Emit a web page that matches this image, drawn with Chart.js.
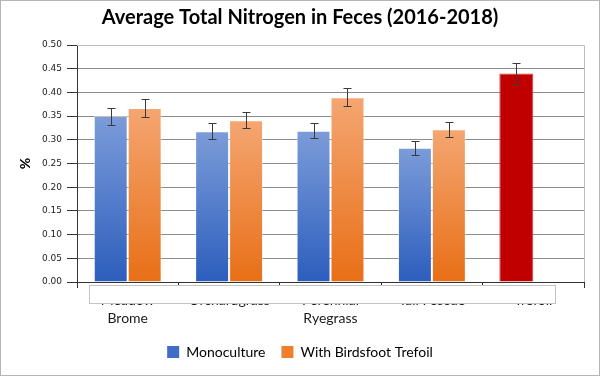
<!DOCTYPE html>
<html lang="en">
  <head>
    <meta charset="utf-8">
    <title>Average Total Nitrogen in Feces</title>
    <script src="https://cdn.jsdelivr.net/npm/chart.js"></script>
    <style>
      body { margin: 0; background: #fff; }
      #wrap { width: 600px; height: 376px; box-sizing: border-box; border: 1px solid #b4b4b4; }
    </style>
  </head>
  <body>
    <div id="wrap">
      <canvas id="myChart" width="598" height="374"></canvas>
    </div>
    <script>
      // data
      const categories = [['Meadow', 'Brome'], 'Orchardgrass', ['Perennial', 'Ryegrass'], 'Tall Fescue', 'Trefoil'];
      const monoculture = [0.350, 0.318, 0.319, 0.283, 0.440];
      const withTrefoil = [0.367, 0.341, 0.390, 0.322, null];
      const monoErr = [0.018, 0.0165, 0.016, 0.0145, 0.022];
      const trefoilErr = [0.0185, 0.017, 0.0195, 0.016, null];
      const yTicks = [0, 0.05, 0.10, 0.15, 0.20, 0.25, 0.30, 0.35, 0.40, 0.45, 0.50];

      // each bar gets its own top-to-bottom gradient, like the original
      function barFill(light, dark) {
        return function (c) {
          const chart = c.chart;
          if (!chart.chartArea || c.parsed == null || c.parsed.y == null) return dark;
          const y = chart.scales.y;
          const top = y.getPixelForValue(c.parsed.y);
          const bot = y.getPixelForValue(0);
          const g = chart.ctx.createLinearGradient(0, top, 0, bot);
          g.addColorStop(0, light);
          g.addColorStop(1, dark);
          return g;
        };
      }
      const blueFill = barFill('#7c9cd9', '#2c5ebd');
      const orangeFill = barFill('#f4a672', '#e86f16');

      const errorBars = {
        id: 'errorBars',
        afterDatasetsDraw(chart) {
          const ctx = chart.ctx;
          const y = chart.scales.y;
          const errs = [monoErr, trefoilErr];
          ctx.save();
          ctx.strokeStyle = '#3a3a3a';
          ctx.lineWidth = 1;
          chart.data.datasets.forEach((ds, i) => {
            chart.getDatasetMeta(i).data.forEach((bar, j) => {
              const v = ds.data[j], e = errs[i][j];
              if (v == null || e == null) return;
              const x = Math.round(bar.x) + 0.5;
              const t = Math.round(y.getPixelForValue(v + e)) + 0.5;
              const b = Math.round(y.getPixelForValue(v - e)) + 0.5;
              ctx.beginPath();
              ctx.moveTo(x, t); ctx.lineTo(x, b);
              ctx.moveTo(x - 4, t); ctx.lineTo(x + 4, t);
              ctx.moveTo(x - 4, b); ctx.lineTo(x + 4, b);
              ctx.stroke();
            });
          });
          ctx.restore();
        }
      };

      // plot-area frame plus the stray white box lying over the first label line
      const extras = {
        id: 'extras',
        beforeDatasetsDraw(chart) {
          const a = chart.chartArea, ctx = chart.ctx;
          ctx.save();
          ctx.strokeStyle = '#bdbdbd';
          ctx.beginPath();
          ctx.moveTo(a.left, a.top + 0.5); ctx.lineTo(a.right + 0.5, a.top + 0.5); ctx.lineTo(a.right + 0.5, a.bottom);
          ctx.stroke();
          ctx.restore();
        },
        afterDraw(chart) {
          const a = chart.chartArea, ctx = chart.ctx;
          ctx.save();
          ctx.fillStyle = '#fff';
          ctx.strokeStyle = '#c3c3c3';
          ctx.fillRect(a.left + 12, a.bottom + 3, 467, 18);
          ctx.strokeRect(a.left + 12.5, a.bottom + 3.5, 466, 18);
          ctx.restore();
        }
      };

      const ctx = document.getElementById('myChart');
      new Chart(ctx, {
        type: 'bar',
        data: {
          labels: categories,
          datasets: [{
            label: 'Monoculture',
            data: monoculture,
            backgroundColor: (c) => c.dataIndex === 4 ? '#c00000' : blueFill(c),
            borderColor: (c) => c.dataIndex === 4 ? '#d23a3a' : 'rgba(255,255,255,0.45)',
            borderWidth: 1,
            categoryPercentage: 0.67,
            barPercentage: 1
          }, {
            label: 'With Birdsfoot Trefoil',
            data: withTrefoil,
            backgroundColor: orangeFill,
            borderColor: 'rgba(255,255,255,0.45)',
            borderWidth: 1,
            categoryPercentage: 0.67,
            barPercentage: 1
          }]
        },
        options: {
          responsive: false,
          animation: false,
          layout: { padding: { left: 0, right: 0, top: 0, bottom: 6 } },
          plugins: {
            title: {
              display: true,
              text: 'Average Total Nitrogen in Feces (2016-2018)',
              color: '#000',
              font: { family: 'Lato', size: 20, weight: 'bold' },
              padding: { top: 5, bottom: 15 }
            },
            legend: {
              position: 'bottom',
              labels: {
                color: '#1a1a1a',
                font: { family: 'Lato', size: 14 },
                boxWidth: 12,
                boxHeight: 12,
                padding: 16,
                generateLabels: () => [
                  { text: 'Monoculture', fillStyle: '#3f6dc8', strokeStyle: '#3f6dc8', lineWidth: 0, datasetIndex: 0 },
                  { text: 'With Birdsfoot Trefoil', fillStyle: '#ef7f2c', strokeStyle: '#ef7f2c', lineWidth: 0, datasetIndex: 1 }
                ]
              }
            },
            tooltip: { enabled: false }
          },
          scales: {
            x: {
              offset: true,
              grid: { offset: true, drawOnChartArea: false, tickLength: 6, color: '#333', tickColor: '#333' },
              border: { color: '#333' },
              ticks: {
                color: '#1a1a1a',
                padding: 3,
                maxRotation: 0,
                font: { family: 'Lato', size: 14, lineHeight: 1.3 }
              },
              afterFit: (s) => { s.height = 47; }
            },
            y: {
              min: 0,
              max: 0.5,
              afterBuildTicks: (s) => { s.ticks = yTicks.map(v => ({ value: v })); },
              grid: { color: '#8c8c8c', tickColor: '#333', tickLength: 10 },
              border: { color: '#333' },
              ticks: {
                color: '#1a1a1a',
                padding: 5,
                font: { family: 'DejaVu Sans', size: 9 },
                callback: (v) => Number(v).toFixed(2)
              },
              title: {
                display: true,
                text: '%',
                color: '#000',
                padding: { top: 16, bottom: 0 },
                font: { family: 'Lato', size: 14, weight: 'bold' }
              },
              afterFit: (s) => { s.width = 76; }
            },
            y2: {
              position: 'right',
              grid: { display: false },
              border: { display: false },
              ticks: { display: false },
              afterFit: (s) => { s.width = 15; }
            }
          }
        },
        plugins: [errorBars, extras]
      });
    </script>
  </body>
</html>
